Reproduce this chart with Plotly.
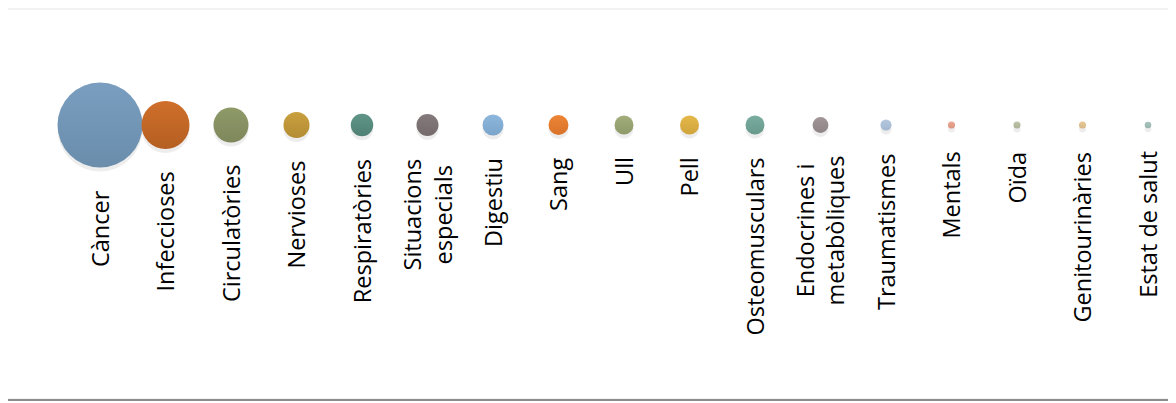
import math
import plotly.graph_objects as go

# categories and bubble values (relative weight, area-scaled)
categories = ["Càncer", "Infeccioses", "Circulatòries", "Nervioses", "Respiratòries",
              "Situacions<br>especials", "Digestiu", "Sang", "Ull", "Pell",
              "Osteomusculars", "Endocrines i<br>metabòliques", "Traumatismes",
              "Mentals", "Oïda", "Genitourinàries", "Estat de salut"]
values = [100, 31.9, 17.0, 9.4, 7.0, 6.7, 6.1, 5.5, 5.0, 5.0, 5.0, 3.5, 1.7, 0.7, 0.7, 0.7, 0.6]
colors = ["#7a9ebf", "#cf6f2a", "#8f9a69", "#c9a03f", "#5f9587", "#857a7b",
          "#8db7dc", "#ee8434", "#a2ad7b", "#e6b849", "#79ad9f", "#a19597",
          "#b5c8e0", "#eca791", "#bcc4a7", "#e8c897", "#a8c6bd"]
dark = ["#6a8dac", "#b45f22", "#7d875b", "#b48c33", "#4f8174", "#746a6b",
        "#7aa4c9", "#d8732a", "#8f9a6a", "#d0a43d", "#689a8c", "#8e8385",
        "#a3b7d0", "#da9581", "#aab397", "#d6b686", "#96b4ab"]

# page body has an 8px margin, so the figure is drawn 8px in from the corner
W, H = 1168, 395
max_d = 85
sizeref = 2 * max(values) / max_d ** 2
x = list(range(1, len(categories) + 1))
y = [0] * len(categories)

fig = go.Figure()

# soft drop shadow under each bubble
fig.add_trace(go.Scatter(
    x=x, y=[v - 4 for v in y], mode="markers", hoverinfo="skip",
    marker=dict(size=values, sizemode="area", sizeref=sizeref,
                color="rgba(0,0,0,0.10)", line=dict(width=0)),
))
fig.add_trace(go.Scatter(
    x=x, y=y, mode="markers", text=categories, hoverinfo="text",
    marker=dict(size=values, sizemode="area", sizeref=sizeref, color=colors,
                gradient=dict(type="vertical", color=dark),
                line=dict(width=0), opacity=1),
))

gap = 22
for xi, cat, v in zip(x, categories, values):
    r = max_d * math.sqrt(v / max(values)) / 2
    fig.add_annotation(x=xi, y=0, xref="x", yref="y", text=cat, showarrow=False,
                       textangle=-90, xanchor="center", yanchor="top",
                       yshift=-(r + gap), borderpad=0,
                       font=dict(family="Open Sans", size=23.5, color="#000000"))

# chart frame
fig.add_shape(type="rect", xref="paper", yref="paper",
              x0=-0.01, x1=1.01, y0=1 - 391 / H, y1=1 - 1 / H,
              line=dict(color="#e4e4e4", width=1), fillcolor="rgba(0,0,0,0)")
fig.add_shape(type="line", xref="paper", yref="paper",
              x0=0, x1=1.01, y0=1 - 392 / H, y1=1 - 392 / H,
              line=dict(color="#8c8c8c", width=2))

step = 65.5
x0 = 1 - 92 / step
cy = 117
fig.update_layout(
    width=W, height=H,
    margin=dict(l=0, r=0, t=0, b=0),
    paper_bgcolor="#ffffff", plot_bgcolor="#ffffff",
    showlegend=False,
    xaxis=dict(range=[x0, x0 + W / step], visible=False, fixedrange=True),
    yaxis=dict(range=[-(H - cy), cy], visible=False, fixedrange=True),
)

fig.write_html("out.html")
